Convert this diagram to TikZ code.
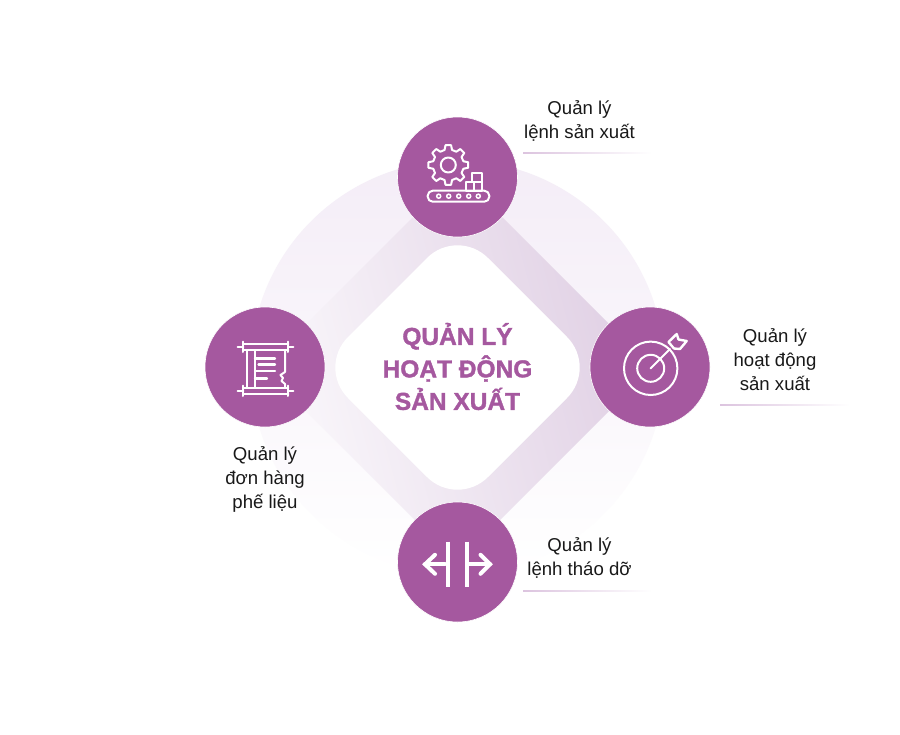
\documentclass[tikz,border=0pt]{standalone}
\usepackage{fontspec}
\setmainfont{Liberation Sans}
\newfontface\ttlfont[FakeBold=1.4]{Liberation Sans Bold}
\tikzset{
  x=1pt,y=-1pt,
  hub/.style={circle,draw=white,line width=0.6pt,fill=hubcol,minimum size=120pt,inner sep=0pt},
  lbl/.style={align=center,inner sep=0pt,text=black!90,font=\fontsize{18.6}{24}\selectfont},
  ttl/.style={align=center,inner sep=0pt,text=hubcol,font=\fontsize{24.5}{32.5}\selectfont\ttlfont},
  ico/.style={draw=white,line width=2pt,line join=round,line cap=round},
  rulebar/.style={left color=rulecol,right color=white,draw=none},
}
\definecolor{hubcol}{HTML}{A5589F}
\definecolor{rulecol}{HTML}{DCC4DF}
\definecolor{discA}{HTML}{F4EDF7}
\definecolor{discB}{HTML}{F8F4FA}
\definecolor{bandA}{HTML}{DFCEE3}
\definecolor{bandB}{HTML}{EBE2EF}
\definecolor{bandC}{HTML}{FBF9FC}
\begin{document}
\begin{tikzpicture}
\useasboundingbox (0,0) rectangle (900,734);
\fill[white] (0,0) rectangle (900,734);
% disc
\shade[top color=discA,middle color=discB,bottom color=white] (457.5,367.5) circle[radius=207];
% band
\shade[top color=bandA,middle color=bandB,bottom color=bandC,shading angle=-75]
  (457.5,172.5) -- (652.5,367.5) -- (457.5,562.5) -- (262.5,367.5) -- cycle;
% inner diamond
\fill[white,rounded corners=43pt]
  (457.5,227.5) -- (597.5,367.5) -- (457.5,507.5) -- (317.5,367.5) -- cycle;
\node[ttl] (title) at (457.5,366.5) {QUẢN LÝ\\HOẠT ĐỘNG\\SẢN XUẤT};
% hubs
\node[hub] (top) at (457.5,177) {};
\node[hub] (right) at (650,367) {};
\node[hub] (left) at (265,367) {};
\node[hub] (bottom) at (457.5,562) {};
% labels
\node[lbl] (ltop) at (579.5,121) {Quản lý\\lệnh sản xuất};
\node[lbl] (lright) at (775,359.5) {Quản lý\\hoạt động\\sản xuất};
\node[lbl] (lleft) at (265,479) {Quản lý\\đơn hàng\\phế liệu};
\node[lbl] (lbottom) at (579.5,557.5) {Quản lý\\lệnh tháo dỡ};
% rules
\shade[rulebar] (523,152.5) rectangle (652,153.7);
\shade[rulebar] (720,404.5) rectangle (850,405.7);
\shade[rulebar] (523,590.5) rectangle (652,591.7);
% gear icon
\begin{scope}[shift={(448.3,165)}]
\draw[ico] (-14:15.5)
  \foreach \a in {0,45,...,315}{
    -- ({\a-14}:15.5) -- ({\a-8}:20) -- ({\a+8}:20) -- ({\a+14}:15.5)
  } -- cycle;
\draw[ico] (0,0) circle[radius=7.5];
\end{scope}
\draw[ico,fill=hubcol] (471.7,173.3) rectangle (481.7,182.3);
\draw[ico,fill=hubcol] (466,182.3) rectangle (474,190.7);
\draw[ico,fill=hubcol] (474,182.3) rectangle (482.3,190.7);
\draw[ico,rounded corners=5pt] (427.7,190.7) rectangle (489.3,201.7);
\foreach \x in {438.7,448.7,458.7,468.7,478.3}
  \draw[white,line width=1.5pt] (\x,196.2) circle[radius=2];
% target icon
\draw[ico] (650.7,368.3) circle[radius=26.7];
\draw[ico] (650.7,368.3) circle[radius=13.5];
\draw[ico] (650.7,368.3) -- (670,349);
\draw[ico,line width=2.4pt] (668.5,342) -- (676.7,334) -- (678.5,339.5) -- (686.7,341) -- (680,349) -- (674,348.5) -- cycle;
% scroll icon
\draw[ico] (237.7,346.7) -- (243.3,346.7) (288.3,346.7) -- (293.3,346.7);
\draw[ico] (243.3,341.5) -- (243.3,352) (288.3,341.5) -- (288.3,352);
\draw[ico] (243.3,344) -- (288.3,344) (243.3,349.7) -- (288.3,349.7);
\draw[ico] (237.7,390.7) -- (243.3,390.7) (288.3,390.7) -- (293.3,390.7);
\draw[ico] (243.3,385.5) -- (243.3,396) (288.3,385.5) -- (288.3,396);
\draw[ico] (243.3,388) -- (288.3,388) (243.3,393.7) -- (288.3,393.7);
\draw[ico] (247,350) -- (247,387.5);
\draw[ico] (254.5,350) -- (254.5,387.5);
\draw[ico] (285,350) -- (285,372) -- (280.5,375) -- (283,378) -- (281.5,381) -- (285,384) -- (285,387.5);
\draw[ico,line width=2.4pt] (255,358.3) -- (275,358.3) (258.5,364.5) -- (275,364.5) (255,370.7) -- (275,370.7) (255,378.3) -- (267,378.3);
% arrows icon
\begin{scope}[draw=white,line width=4.4pt]
\draw (447.7,541.7) -- (447.7,586.7);
\draw (466.7,541.7) -- (466.7,586.7);
\end{scope}
\draw[white,line width=4pt,line cap=round] (445,564.3) -- (425,564.3);
\draw[white,line width=4pt,line join=miter,line cap=round] (435,554.8) -- (425,564.3) -- (435,573.8);
\draw[white,line width=4pt,line cap=round] (469.5,564.3) -- (490,564.3);
\draw[white,line width=4pt,line join=miter,line cap=round] (480.5,554.8) -- (490,564.3) -- (480.5,573.8);
\end{tikzpicture}
\end{document}
